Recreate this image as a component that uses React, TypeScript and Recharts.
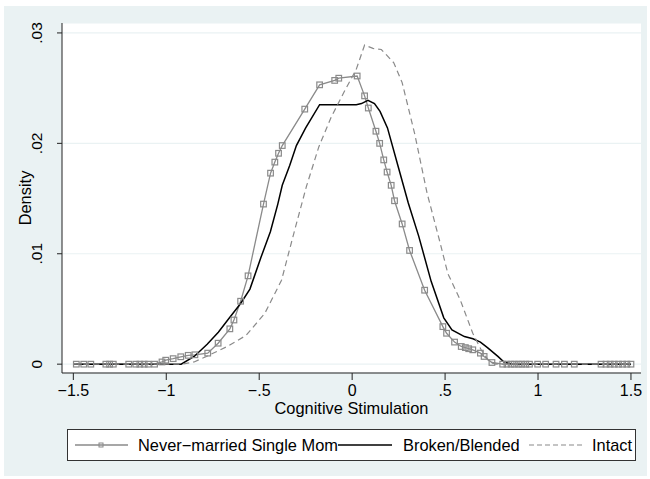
import { LineChart, Line, XAxis, YAxis, CartesianGrid, Label } from 'recharts';

// kernel density estimates
const neverX = [
  -1.484, -1.444, -1.406, -1.325, -1.305, -1.285, -1.202, -1.164, -1.142, -1.119, -1.097, -1.063,
  -1.023, -1.003, -0.963, -0.922, -0.882, -0.846, -0.777, -0.721, -0.658, -0.636, -0.6, -0.56,
  -0.477, -0.439, -0.416, -0.396, -0.376, -0.255, -0.175, -0.094, -0.072, 0.027, 0.067, 0.087,
  0.128, 0.148, 0.17, 0.188, 0.21, 0.228, 0.269, 0.309, 0.39, 0.488, 0.508, 0.551, 0.587, 0.609,
  0.627, 0.649, 0.69, 0.71, 0.752, 0.81, 0.833, 0.855, 0.873, 0.895, 0.913, 0.934, 0.954, 0.998,
  1.041, 1.097, 1.142, 1.195, 1.339, 1.366, 1.388, 1.41, 1.433, 1.455, 1.478, 1.5,
];
const neverY = [
  0, 0, 0, 0, 0, 0, 0, 0, 0, 0, 0, 0,
  0.0002, 0.00036, 0.0005, 0.00067, 0.0008, 0.00085, 0.001, 0.0019, 0.0032, 0.004, 0.0057, 0.008,
  0.0145, 0.0173, 0.0183, 0.0191, 0.0198, 0.0231, 0.0253, 0.0257, 0.0259, 0.0261, 0.0243, 0.0232,
  0.0211, 0.02, 0.0185, 0.0174, 0.0162, 0.0148, 0.0127, 0.0103, 0.0067, 0.0034, 0.0028, 0.002,
  0.0016, 0.0015, 0.0014, 0.0013, 0.001, 0.0007, 0.00015,
  0, 0, 0, 0, 0, 0, 0, 0, 0, 0, 0, 0, 0, 0, 0, 0, 0, 0, 0, 0, 0,
];

const brokenX = [
  -1.5, -0.92, -0.85, -0.78, -0.72, -0.66, -0.6, -0.55, -0.49, -0.44, -0.4, -0.376, -0.336, -0.3,
  -0.25, -0.175, 0.022, 0.05, 0.085, 0.12, 0.15, 0.19, 0.246, 0.302, 0.358, 0.425, 0.493, 0.537,
  0.604, 0.65, 0.69, 0.728, 0.784, 0.817, 0.86, 1.5,
];
const brokenY = [
  0, 0, 0.0007, 0.0018, 0.0029, 0.0042, 0.0055, 0.0068, 0.0097, 0.012, 0.0145, 0.0162, 0.018, 0.0198,
  0.0214, 0.0235, 0.0235, 0.0236, 0.0239, 0.0236, 0.0229, 0.0214, 0.018, 0.0146, 0.0116, 0.0075,
  0.0042, 0.0031, 0.0025, 0.0023, 0.002, 0.0015, 0.0007, 0.0002, 0, 0,
];

const intactX = [
  -1.5, -0.918, -0.85, -0.784, -0.672, -0.571, -0.47, -0.38, -0.313, -0.246, -0.179, -0.112,
  -0.045, 0.022, 0.067, 0.112, 0.157, 0.224, 0.269, 0.336, 0.403, 0.47, 0.515, 0.582, 0.649, 0.694,
  0.739, 0.772, 1.5,
];
const intactY = [
  0, 0, 0.0002, 0.0007, 0.0016, 0.0026, 0.0046, 0.0076, 0.0119, 0.0161, 0.0197, 0.0224,
  0.0246, 0.0267, 0.0289, 0.0286, 0.0285, 0.0273, 0.0255, 0.0209, 0.0155, 0.0112, 0.0082, 0.0058,
  0.0028, 0.0013, 0.0002, 0, 0,
];

const xTicks = [-1.5, -1, -0.5, 0, 0.5, 1, 1.5];
const yTicks = [0, 0.01, 0.02, 0.03];
const legendLabels = ['Never\u2212married Single Mom', 'Broken/Blended', 'Intact'];

const FONT = '"Liberation Sans", Arial, Helvetica, sans-serif';
const GRAY = '#8a8a8a';

const zip = (xs: number[], ys: number[]) => xs.map((x, i) => ({ x, y: ys[i] }));
const neverData = zip(neverX, neverY);
const brokenData = zip(brokenX, brokenY);
const intactData = zip(intactX, intactY);

// Stata-style labels: leading zero dropped, real minus sign
const fmt = (v: number) => {
  const s = String(Math.abs(v)).replace(/^0\./, '.');
  return v < 0 ? '\u2212' + s : s;
};

const XTick = ({ x, y, payload }: any) => (
  <text x={x} y={y + 14} textAnchor="middle" fontSize={16} fontFamily={FONT} fill="#000">
    {fmt(payload.value)}
  </text>
);

const YTick = ({ x, y, payload }: any) => (
  <text
    transform={`translate(${x - 13}, ${y}) rotate(-90)`}
    textAnchor="middle"
    fontSize={15.5}
    fontFamily={FONT}
    fill="#000"
  >
    {fmt(payload.value)}
  </text>
);

const SquareDot = (props: any) => {
  const { cx, cy, index } = props;
  if (cx == null || cy == null) return <g key={`d${index}`} />;
  return (
    <rect key={`d${index}`} x={cx - 2.8} y={cy - 2.8} width={5.6} height={5.6}
      fill="none" stroke={GRAY} strokeWidth={1.2} />
  );
};

const ChartLegend = () => (
  <svg width={570} height={33} style={{ position: 'absolute', left: 67, top: 429 }}>
    <rect x={0.5} y={0.5} width={568} height={31} fill="#fff" stroke="#333" />
    <g fontFamily={FONT} fontSize={16.4} fill="#000">
      <line x1={8} x2={61} y1={16} y2={16} stroke={GRAY} strokeWidth={1.3} />
      <rect x={32} y={14} width={4} height={4} fill="none" stroke={GRAY} strokeWidth={1} />
      <text x={71} y={22}>{legendLabels[0]}</text>
      <line x1={271} x2={325} y1={16} y2={16} stroke="#000" strokeWidth={1.5} />
      <text x={336} y={22}>{legendLabels[1]}</text>
      <line x1={462} x2={518} y1={16} y2={16} stroke={GRAY} strokeWidth={1.2} strokeDasharray="5 3" />
      <text x={525} y={22}>{legendLabels[2]}</text>
    </g>
  </svg>
);

export default function App() {
  return (
    <div style={{ position: 'absolute', left: 0, top: 0, width: 650, height: 479, background: '#fff' }}>
      <div style={{ position: 'absolute', left: 4, top: 6, width: 643, height: 470, background: '#EAF2F3' }} />
      <div style={{ position: 'absolute', left: 0, top: 0 }}>
        <LineChart width={650} height={479} margin={{ top: 23, right: 9, bottom: 56, left: 0 }}>
          <CartesianGrid vertical={false} stroke="#EAF2F3" strokeWidth={1.2} fill="#fff" fillOpacity={1} />
          <XAxis
            dataKey="x"
            type="number"
            domain={[-1.561, 1.554]}
            ticks={xTicks}
            interval={0}
            allowDataOverflow
            height={50}
            tickSize={7}
            tick={<XTick />}
            axisLine={{ stroke: '#222' }}
            tickLine={{ stroke: '#222' }}
          >
            <Label
              value="Cognitive Stimulation"
              position="insideBottom"
              offset={9}
              style={{ fontSize: 16.4, fontFamily: FONT, fill: '#000' }}
            />
          </XAxis>
          <YAxis
            type="number"
            domain={[-0.0008, 0.0309]}
            ticks={yTicks}
            interval={0}
            allowDataOverflow
            width={62}
            tickSize={5}
            tick={<YTick />}
            axisLine={{ stroke: '#222' }}
            tickLine={{ stroke: '#222' }}
          >
            <Label
              content={({ viewBox }: any) => (
                <text
                  transform={`translate(31, ${viewBox.y + viewBox.height / 2}) rotate(-90)`}
                  textAnchor="middle"
                  fontSize={16.4}
                  fontFamily={FONT}
                  fill="#000"
                >
                  Density
                </text>
              )}
            />
          </YAxis>
          <Line data={neverData} dataKey="y" type="linear" stroke={GRAY} strokeWidth={1.3}
            dot={SquareDot} activeDot={false} isAnimationActive={false} />
          <Line data={brokenData} dataKey="y" type="linear" stroke="#000" strokeWidth={1.5}
            dot={false} activeDot={false} isAnimationActive={false} />
          <Line data={intactData} dataKey="y" type="linear" stroke={GRAY} strokeWidth={1.2}
            strokeDasharray="6 4" dot={false} activeDot={false} isAnimationActive={false} />
        </LineChart>
      </div>
      <ChartLegend />
    </div>
  );
}
